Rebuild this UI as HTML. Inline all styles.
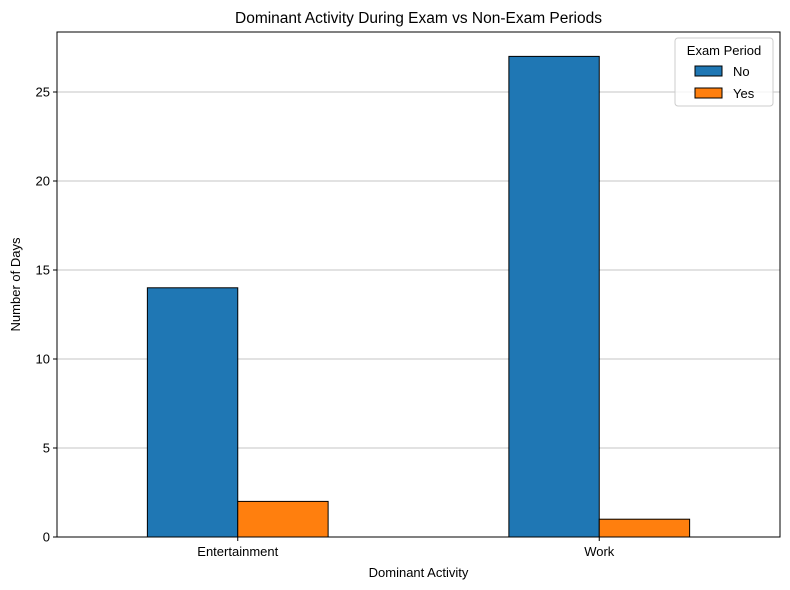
<!DOCTYPE html>
<html><head><meta charset="utf-8">
<style>
html,body{margin:0;padding:0;background:#fff;}
svg{display:block;font-family:"Liberation Sans","DejaVu Sans",sans-serif;}
</style></head>
<body>
<svg id="chart" width="790" height="590" viewBox="0 0 790 590"></svg>
<script>
const categories = ["Entertainment", "Work"];
const seriesNames = ["No", "Yes"];
const seriesNo = [14, 27];
const seriesYes = [2, 1];
const yTicks = [0, 5, 10, 15, 20, 25];
const colors = ["#1f77b4", "#ff7f0e"];

const svg = document.getElementById('chart');
const NS = "http://www.w3.org/2000/svg";
const L = 57, R = 780, T = 32, B = 537;
const yMax = 28.37;
const xMin = -0.5, xMax = 1.5;
const y = v => B - v / yMax * (B - T);
const x = v => L + (v - xMin) / (xMax - xMin) * (R - L);
function el(tag, attrs, parent) {
  const e = document.createElementNS(NS, tag);
  for (const k in attrs) e.setAttribute(k, attrs[k]);
  (parent || svg).appendChild(e);
  return e;
}
function txt(s, attrs) { const t = el('text', attrs); t.textContent = s; return t; }

// grid
yTicks.forEach(v => {
  const g = el('line', {x1: L, x2: R, y1: y(v), y2: y(v), stroke: '#b0b0b0', 'stroke-width': 0.8});
  
  
});

// bars
const series = [seriesNo, seriesYes];
const bw = 0.25;
series.forEach((vals, si) => {
  vals.forEach((v, ci) => {
    const x0 = x(ci - bw + si * bw), x1 = x(ci + si * bw);
    const r = el('rect', {x: x0, y: y(v), width: x1 - x0, height: y(0) - y(v), fill: colors[si], stroke: '#000', 'stroke-width': 1});
    
    
  });
});

// axes frame
const frame = el('rect', {x: L, y: T, width: R - L, height: B - T, fill: 'none', stroke: '#000', 'stroke-width': 1});



// y ticks
yTicks.forEach(v => {
  el('line', {x1: L - 4, x2: L, y1: y(v), y2: y(v), stroke: '#000'});
  const t = txt(String(v), {x: L - 7, y: y(v) + 4.5, 'text-anchor': 'end', 'font-size': 13, fill: '#000'});
  
  
});
// x ticks
categories.forEach((c, i) => {
  el('line', {x1: x(i), x2: x(i), y1: B, y2: B + 4, stroke: '#000'});
  const t = txt(c, {x: x(i), y: B + 19, 'text-anchor': 'middle', 'font-size': 13, fill: '#000'});
  
  
});

// titles
let t = txt('Dominant Activity During Exam vs Non-Exam Periods', {x: (L + R) / 2, y: 23, 'text-anchor': 'middle', 'font-size': 15.5});
 
t = txt('Dominant Activity', {x: (L + R) / 2, y: 577, 'text-anchor': 'middle', 'font-size': 13});
 
t = txt('Number of Days', {x: 20, y: (T + B) / 2, 'text-anchor': 'middle', 'font-size': 13, transform: 'rotate(-90 20 ' + (T + B) / 2 + ')'});
 

// legend
const lg = el('g', {});


el('rect', {x: 675, y: 38, width: 98, height: 68, rx: 3, fill: '#fff', 'fill-opacity': 0.8, stroke: '#ccc'}, lg);
const lt = el('text', {x: 724, y: 55, 'text-anchor': 'middle', 'font-size': 13}, lg);
lt.textContent = 'Exam Period';
seriesNames.forEach((n, i) => {
  const e = el('g', {}, lg);
  
  
  el('rect', {x: 695, y: 66 + i * 22, width: 27, height: 10, fill: colors[i], stroke: '#000'}, e);
  const tt = el('text', {x: 733, y: 76 + i * 22, 'font-size': 13}, e);
  tt.textContent = n;
});
</script>
</body></html>
